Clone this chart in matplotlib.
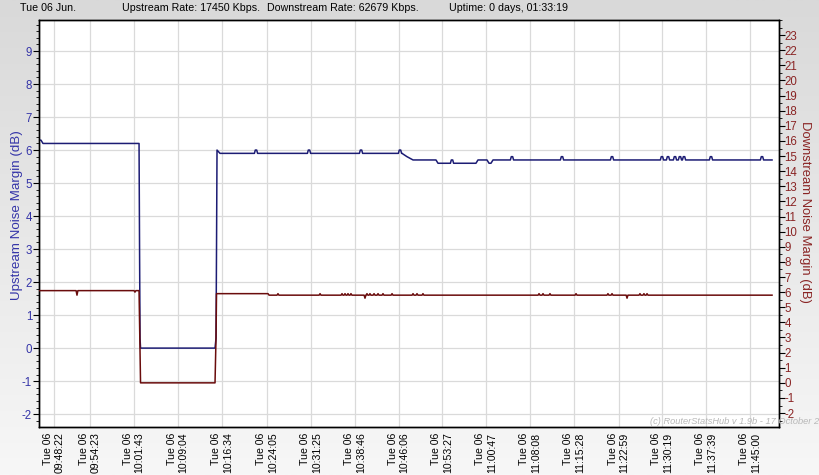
import matplotlib
matplotlib.use("Agg")
import matplotlib.pyplot as plt
import matplotlib.dates as mdates
from matplotlib.ticker import MultipleLocator, FixedLocator
from matplotlib.colors import LinearSegmentedColormap
import numpy as np
import pandas as pd

plt.rcParams['font.family'] = ['Liberation Sans', 'DejaVu Sans']
plt.rcParams['axes.unicode_minus'] = False

DAY = "2017-06-06"

# ---------------- data ----------------
header_date = "Tue 06 Jun."
header_up = "Upstream Rate: 17450 Kbps."
header_down = "Downstream Rate: 62679 Kbps."
header_uptime = "Uptime: 0 days, 01:33:19"

tick_times = ["09:48:22", "09:54:23", "10:01:43", "10:09:04", "10:16:34", "10:24:05",
              "10:31:25", "10:38:46", "10:46:06", "10:53:27", "11:00:47", "11:08:08",
              "11:15:28", "11:22:59", "11:30:19", "11:37:39", "11:45:00"]
tick_day = "Tue 06"

# Upstream noise margin (dB) - breakpoints
up_times = ["09:45:51", "09:46:11", "09:46:31", "10:02:37", "10:02:42", "10:02:47",
            "10:02:52", "10:15:21", "10:15:31", "10:15:36", "10:15:41", "10:16:11",
            "10:46:41", "10:47:31", "10:48:32", "10:52:23", "10:52:43", "10:59:05",
            "10:59:25", "11:00:56", "11:01:16", "11:01:36", "11:01:56", "11:48:42"]
up_vals = [6.3, 6.3, 6.2, 6.2, 3.1, 0.3,
           0.0, 0.0, 0.3, 3.0, 6.0, 5.9,
           5.9, 5.8, 5.7, 5.7, 5.6, 5.6,
           5.7, 5.7, 5.6, 5.6, 5.7, 5.7]
# short upward bumps on the upstream line
up_blip_times = ["10:22:13", "10:31:06", "10:39:49", "10:46:21", "10:55:04", "11:05:07",
                 "11:13:30", "11:21:53", "11:30:15", "11:31:16", "11:32:26", "11:33:16",
                 "11:33:57", "11:38:28", "11:47:01"]
up_blip_vals = [6.0, 6.0, 6.0, 6.0, 5.7, 5.8,
                5.8, 5.8, 5.8, 5.8, 5.8, 5.8,
                5.8, 5.8, 5.8]

# Downstream noise margin (dB) - breakpoints
dn_times = ["09:45:51", "10:02:37", "10:02:52", "10:15:21", "10:15:31", "10:15:36",
            "10:24:14", "10:24:24", "11:48:42"]
dn_vals = [6.1, 6.1, 0.0, 0.0, 3.0, 5.9,
           5.9, 5.8, 5.8]
# single-sample spikes on the downstream line
dn_blip_times = ["09:52:13", "10:01:56", "10:25:54", "10:32:57", "10:36:38", "10:37:08",
                 "10:37:38", "10:38:08", "10:40:29", "10:40:49", "10:41:19", "10:42:00",
                 "10:42:40", "10:43:30", "10:45:01", "10:48:32", "10:49:12", "10:50:12",
                 "11:09:39", "11:10:19", "11:11:29", "11:15:51", "11:21:12", "11:21:53",
                 "11:24:24", "11:26:34", "11:27:14", "11:27:45"]
dn_blip_vals = [5.8, 6.0, 5.9, 5.9, 5.9, 5.9,
                5.9, 5.9, 5.6, 5.9, 5.9, 5.9,
                5.9, 5.9, 5.9, 5.9, 5.9, 5.9,
                5.9, 5.9, 5.9, 5.9, 5.9, 5.9,
                5.6, 5.9, 5.9, 5.9]

x_start, x_end = "09:45:51", "11:49:52"


def to_num(lst):
    return mdates.date2num(pd.to_datetime([DAY + " " + s for s in lst]).to_pydatetime())


def with_blips(bt, bv, kt, kv, half, flat):
    bt = to_num(bt)
    kt = to_num(kt)
    pts = list(zip(bt, bv))
    h = half / 86400.0
    f = flat / 86400.0
    for t, v in zip(kt, kv):
        base = float(np.interp(t, bt, bv))
        pts += [(t - h - f, base), (t - f, v), (t + f, v), (t + h + f, base)]
    pts.sort(key=lambda p: p[0])
    arr = np.array(pts)
    return arr[:, 0], arr[:, 1]


up_x, up_y = with_blips(up_times, up_vals, up_blip_times, up_blip_vals, 9, 7)
dn_x, dn_y = with_blips(dn_times, dn_vals, dn_blip_times, dn_blip_vals, 9, 0)

# ---------------- figure ----------------
W, H = 820, 475
fig = plt.figure(figsize=(W / 100, H / 100), dpi=100)

# background gradient
bg = fig.add_axes([0, 0, 1, 1], zorder=-10)
grad = np.linspace(0, 1, 256).reshape(-1, 1)
cm = LinearSegmentedColormap.from_list("g", ["#d9d9d9", "#f7f7f7"])
bg.imshow(grad, aspect="auto", cmap=cm, extent=[0, 1, 0, 1], origin="upper")
bg.axis("off")

L, R, T, B = 39, 779, 20, 427
ax = fig.add_axes([L / W, 1 - B / H, (R - L) / W, (B - T) / H])
ax.set_facecolor("white")
ax2 = ax.twinx()

up_color = "#1c1c74"
dn_color = "#6a0c0c"
up_lab = "#3434a8"
dn_lab = "#8a2424"

ax.plot(up_x, up_y, color=up_color, lw=1.1, zorder=3)
ax2.plot(dn_x, dn_y, color=dn_color, lw=1.1, zorder=3)

ax.set_xlim(to_num([x_start])[0], to_num([x_end])[0])
ax.set_ylim(-2.39, 9.94)
ax2.set_ylim(-2.92, 24.0)

tick_nums = to_num(tick_times)
ax.set_xticks(tick_nums)
ax.set_xticklabels([f"{tick_day}\n{t}" for t in tick_times], rotation=90,
                   multialignment="right", fontsize=7.6, color="black", linespacing=1.25)
ax.tick_params(axis="x", length=0, pad=4)

ax.yaxis.set_major_locator(FixedLocator(range(-2, 10)))
ax.yaxis.set_minor_locator(MultipleLocator(0.2))
ax.tick_params(axis="y", which="major", length=4, colors="black", labelcolor=up_lab,
               labelsize=8.3, pad=1, width=0.8)
ax.tick_params(axis="y", which="minor", length=2, color="black", width=0.6)

ax2.yaxis.set_major_locator(FixedLocator(range(-2, 24)))
ax2.yaxis.set_minor_locator(MultipleLocator(0.5))
ax2.tick_params(axis="y", which="major", length=4, colors="black", labelcolor=dn_lab,
                labelsize=8.3, pad=0, width=0.8)
ax2.tick_params(axis="y", which="minor", length=2, color="black", width=0.6)

ax.grid(True, which="major", color="#dadada", lw=0.9)
ax.set_axisbelow(True)
for a in (ax, ax2):
    for s in a.spines.values():
        s.set_color("black")
        s.set_linewidth(1.0)

fig.text(17 / W, 1 - 215 / H, "Upstream Noise Margin (dB)", rotation=90, color=up_lab,
         fontsize=9.6, ha="center", va="center")
fig.text(805 / W, 1 - 212 / H, "Downstream Noise Margin (dB)", rotation=-90, color=dn_lab,
         fontsize=9.4, ha="center", va="center")

hy = 1 - 8 / H
hfs = 7.7
fig.text(20 / W, hy, header_date, fontsize=hfs, va="center", ha="left")
fig.text(122 / W, hy, header_up, fontsize=hfs, va="center", ha="left")
fig.text(267 / W, hy, header_down, fontsize=hfs, va="center", ha="left")
fig.text(449 / W, hy, header_uptime, fontsize=hfs, va="center", ha="left")

fig.text(650 / W, 1 - 421 / H, "(c) RouterStatsHub v 1.9b - 17 October 2017", fontsize=6.7,
         style="italic", color="#b8b8b8", va="center", ha="left", zorder=20)

fig.savefig("out.png", dpi=100)
